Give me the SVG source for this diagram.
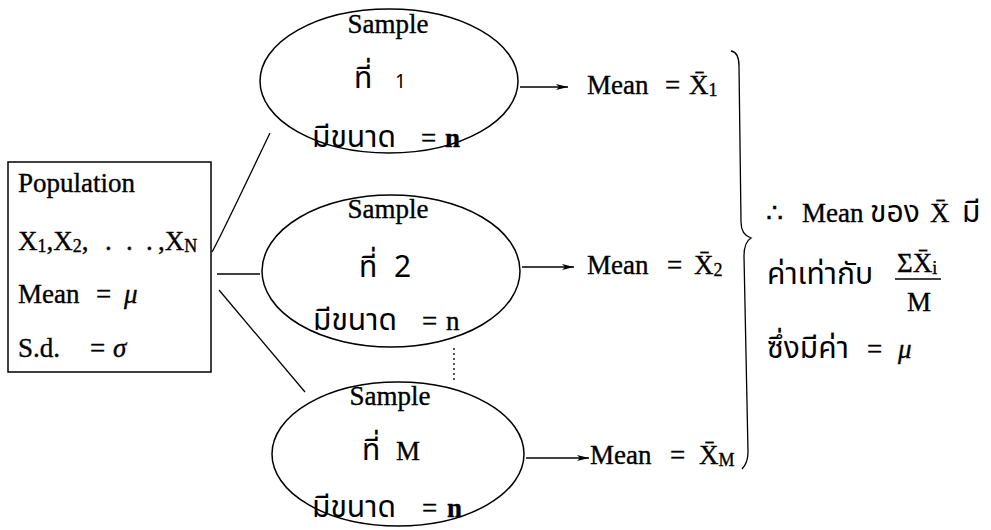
<svg xmlns="http://www.w3.org/2000/svg" width="991" height="530" viewBox="0 0 991 530">
<style>
.t{font-family:"Liberation Serif","Times New Roman",serif;font-size:27px;fill:#000;stroke:#000;stroke-width:0.35}
.th{font-family:"Noto Sans Thai","Noto Sans Thai Looped","Loma","Garuda","Tlwg Typo","Norasi",sans-serif;font-size:30px;fill:#000}
.sub{font-size:18px}
.small{font-size:19px}
.it{font-style:italic}
.shape{fill:none;stroke:#000;stroke-width:1.5}
.conn{fill:none;stroke:#000;stroke-width:1.3}
</style>
<defs>
<marker id="arr" viewBox="0 0 12 6" refX="12" refY="3" markerWidth="12" markerHeight="6" markerUnits="userSpaceOnUse" orient="auto">
<path d="M0,0 L12,3 L0,6 L3,3 Z" fill="#000"/>
</marker>
</defs>
<rect width="991" height="530" fill="#fff"/>

<g id="population">
<rect class="shape" x="8" y="162" width="203" height="210"/>
<text class="t" x="18" y="192">Population</text>
<text class="t" y="250"><tspan x="18">X</tspan><tspan class="sub" dy="2">1</tspan><tspan dy="-2">,X</tspan><tspan class="sub" dy="2">2</tspan><tspan dy="-2">,</tspan><tspan x="105">.</tspan><tspan x="126">.</tspan><tspan x="146">.</tspan><tspan x="158">,X</tspan><tspan class="sub" dy="2">N</tspan></text>
<text class="t" y="303"><tspan x="18">Mean</tspan><tspan x="96">=</tspan><tspan class="it" x="124">μ</tspan></text>
<text class="t" y="357"><tspan x="18">S.d.</tspan><tspan x="90">=</tspan><tspan class="it" x="113">σ</tspan></text>
</g>

<g id="sample1">
<ellipse class="shape" cx="389" cy="81" rx="129" ry="72"/>
<text class="t" x="388" y="33" text-anchor="middle">Sample</text>
<text class="th" x="354" y="88">ที่<tspan class="small" x="395">1</tspan></text>
<text y="147"><tspan class="th" x="312">มีขนาด</tspan><tspan class="t" x="421">=</tspan><tspan class="t" x="445" font-weight="bold">n</tspan></text>
</g>

<g id="sample2">
<ellipse class="shape" cx="391" cy="271" rx="129" ry="76"/>
<text class="t" x="388" y="218" text-anchor="middle">Sample</text>
<text class="th" x="359" y="277">ที่<tspan x="394">2</tspan></text>
<text y="330"><tspan class="th" x="313">มีขนาด</tspan><tspan class="t" x="422">=</tspan><tspan class="t" x="446">n</tspan></text>
</g>

<g id="sampleM">
<ellipse class="shape" cx="398" cy="454" rx="126" ry="72"/>
<text class="t" x="390" y="405" text-anchor="middle">Sample</text>
<text y="460"><tspan class="th" x="362">ที่</tspan><tspan class="t" x="396">M</tspan></text>
<text y="517"><tspan class="th" x="312">มีขนาด</tspan><tspan class="t" x="422">=</tspan><tspan class="t" x="447" font-weight="bold">n</tspan></text>
</g>

<g id="mean1">
<text class="t" y="94"><tspan x="587">Mean</tspan><tspan x="665">=</tspan><tspan x="689">X̄</tspan><tspan class="sub" dy="2">1</tspan></text>
</g>
<g id="mean2">
<text class="t" y="274"><tspan x="587">Mean</tspan><tspan x="667">=</tspan><tspan x="694">X̄</tspan><tspan class="sub" dy="2">2</tspan></text>
</g>
<g id="meanM">
<text class="t" y="464"><tspan x="590">Mean</tspan><tspan x="670">=</tspan><tspan x="699">X̄</tspan><tspan class="sub" dy="2">M</tspan></text>
</g>

<g id="conclusion">
<path class="conn" d="M731,51 C737,52 739,57 739,66 L741,222 C741,231 745,236 751,238 C746,241 744,246 744,256 L748,452 C748,460 746,465 742,469"/>
<text class="t" y="222"><tspan x="766">∴</tspan><tspan x="802">Mean</tspan><tspan class="th" x="870" stroke="none">ของ</tspan><tspan x="930">X̄</tspan><tspan class="th" x="962" stroke="none">มี</tspan></text>
<text class="th" x="767" y="284">ค่าเท่ากับ</text>
<text class="t" y="272"><tspan x="897">ΣX̄</tspan><tspan class="sub" dy="2">i</tspan></text>
<line class="conn" x1="895" y1="279" x2="941" y2="279"/>
<text class="t" x="919" y="311" text-anchor="middle">M</text>
<text y="358"><tspan class="th" x="767">ซึ่งมีค่า</tspan><tspan class="t" x="867">=</tspan><tspan class="t it" x="898">μ</tspan></text>
</g>

<g id="connectors">
<path class="conn" d="M212,252 C220,238 245,185 270,133"/>
<line class="conn" x1="217" y1="274" x2="260" y2="274"/>
<line class="conn" x1="219" y1="290" x2="305" y2="392"/>
<line class="conn" x1="454" y1="348" x2="454" y2="380" stroke-dasharray="2 3"/>
<line class="conn" x1="520" y1="87" x2="568" y2="87" marker-end="url(#arr)"/>
<line class="conn" x1="522" y1="267" x2="574" y2="267" marker-end="url(#arr)"/>
<line class="conn" x1="526" y1="458" x2="589" y2="458" marker-end="url(#arr)"/>
</g>
</svg>
